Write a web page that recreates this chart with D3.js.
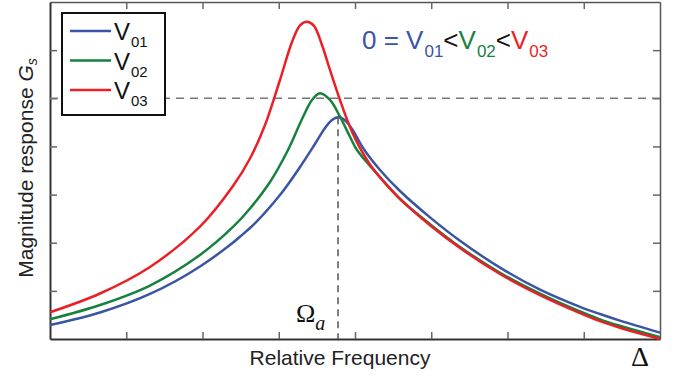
<!DOCTYPE html>
<html>
<head>
<meta charset="utf-8">
<script src="https://cdn.jsdelivr.net/npm/d3@7"></script>
<style>
  body { margin: 0; background: #fff; }
  svg { display: block; }
</style>
</head>
<body>
<div id="chart"></div>
<script>
// Curve samples: [relative frequency, magnitude]
const v01 = [
  [0, 0.291], [0.656, 0.550], [1.311, 0.935], [1.967, 1.506], [2.623, 2.306],
  [3.016, 2.991], [3.279, 3.573], [3.475, 4.051], [3.607, 4.383], [3.698, 4.549],
  [3.777, 4.605], [3.856, 4.560], [3.961, 4.362], [4.105, 3.967], [4.328, 3.510],
  [4.590, 3.074], [4.984, 2.526], [5.377, 2.040], [5.902, 1.483], [6.426, 1.026],
  [6.951, 0.669], [7.213, 0.519], [7.475, 0.382], [8, 0.133]
];
const v02 = [
  [0, 0.409], [0.656, 0.706], [1.311, 1.111], [1.967, 1.745], [2.400, 2.327],
  [2.623, 2.711], [2.885, 3.261], [3.108, 3.885], [3.318, 4.612], [3.436, 4.965],
  [3.541, 5.104], [3.672, 4.965], [3.803, 4.618], [3.934, 4.202], [4.026, 3.926],
  [4.328, 3.365], [4.590, 2.908], [4.984, 2.385], [5.377, 1.911], [5.902, 1.377],
  [6.426, 0.941], [6.951, 0.571], [7.213, 0.409], [7.475, 0.274], [8, 0.035]
];
const v03 = [
  [0, 0.555], [0.656, 0.945], [1.311, 1.496], [1.967, 2.335], [2.400, 3.178],
  [2.623, 3.750], [2.820, 4.445], [3.016, 5.380], [3.174, 6.170], [3.279, 6.515],
  [3.370, 6.591], [3.462, 6.505], [3.567, 6.107], [3.672, 5.588], [3.803, 4.965],
  [3.934, 4.404], [4.066, 3.967], [4.262, 3.484], [4.590, 2.912], [4.984, 2.364],
  [5.377, 1.890], [5.902, 1.350], [6.426, 0.910], [6.951, 0.536], [7.213, 0.370],
  [7.475, 0.233], [8, 0.0]
];

const seriesNames = ['01', '02', '03'];
const seriesColors = ['#3a55a4', '#17813f', '#ec1f26'];
const xTicks = [1, 2, 3, 4, 5, 6, 7];
const yTicks = [1, 2, 3, 4, 5, 6];
const refLevel = 5;                 // horizontal dashed line
const omegaA = [3.777, 4.605];      // vertical dashed line (blue peak)

const width = 686, height = 381;

const svg = d3.select('#chart')
  .append('svg')
  .attr('width', width)
  .attr('height', height);

const x = d3.scaleLinear().domain([0, 8]).range([50, 660]);
const y = d3.scaleLinear().domain([0, 7]).range([339, 2]);

// Axes (ticks pointing inward, no labels)
function styleAxis(g) {
  g.selectAll('.tick line').attr('stroke', '#666').attr('stroke-width', 1.5);
  g.select('.domain').attr('stroke', '#333').attr('stroke-width', 2);
}
svg.append('g').attr('transform', `translate(0,${y(0)})`)
  .call(d3.axisBottom(x).tickValues(xTicks).tickSize(-7).tickSizeOuter(0).tickFormat(''))
  .call(styleAxis);
svg.append('g').attr('transform', `translate(0,${y(7)})`)
  .call(d3.axisTop(x).tickValues(xTicks).tickSize(-7).tickSizeOuter(0).tickFormat(''))
  .call(styleAxis)
  .call(g => g.select('.domain').attr('stroke', '#555').attr('stroke-width', 1.5));
svg.append('g').attr('transform', `translate(${x(0)},0)`)
  .call(d3.axisLeft(y).tickValues(yTicks).tickSize(-7).tickSizeOuter(0).tickFormat(''))
  .call(styleAxis);
svg.append('g').attr('transform', `translate(${x(8)},0)`)
  .call(d3.axisRight(y).tickValues(yTicks).tickSize(-7).tickSizeOuter(0).tickFormat(''))
  .call(styleAxis)
  .call(g => g.select('.domain').attr('stroke', '#555').attr('stroke-width', 1.5));

// Dashed reference lines
svg.append('line')
  .attr('x1', x(0)).attr('x2', x(8))
  .attr('y1', y(refLevel)).attr('y2', y(refLevel))
  .attr('stroke', '#777').attr('stroke-width', 1.5)
  .attr('stroke-dasharray', '8,6');
svg.append('line')
  .attr('x1', x(omegaA[0])).attr('x2', x(omegaA[0]))
  .attr('y1', y(omegaA[1])).attr('y2', y(0))
  .attr('stroke', '#555').attr('stroke-width', 1.5)
  .attr('stroke-dasharray', '7,5');

// Curves
const line = d3.line()
  .x(d => x(d[0]))
  .y(d => y(d[1]))
  .curve(d3.curveCatmullRom.alpha(0.5));

[v01, v02, v03].forEach((data, i) => {
  svg.append('path')
    .datum(data)
    .attr('d', line)
    .attr('fill', 'none')
    .attr('stroke', seriesColors[i])
    .attr('stroke-width', 2.5);
});

// Legend
const legend = svg.append('g');
legend.append('rect')
  .attr('x', 62).attr('y', 13).attr('width', 103).attr('height', 102)
  .attr('fill', '#fff').attr('stroke', '#111').attr('stroke-width', 2);
seriesNames.forEach((name, i) => {
  const ly = 31 + i * 29.5;
  legend.append('line')
    .attr('x1', 70).attr('x2', 111).attr('y1', ly).attr('y2', ly)
    .attr('stroke', seriesColors[i]).attr('stroke-width', 2.5);
  const t = legend.append('text')
    .attr('x', 114).attr('y', ly + 9)
    .attr('font-family', 'Liberation Sans, Arial, sans-serif')
    .attr('font-size', 24)
    .attr('fill', '#111');
  t.append('tspan').text('V');
  t.append('tspan').attr('dy', 7).attr('dx', 1).attr('font-size', 15).text(name);
});

// Annotation 0 = V01 < V02 < V03
const ann = svg.append('text')
  .attr('x', 362).attr('y', 49)
  .attr('font-family', 'Liberation Sans, Arial, sans-serif')
  .attr('font-size', 26);
ann.append('tspan').attr('fill', seriesColors[0]).text('0 = V');
seriesNames.forEach((name, i) => {
  if (i > 0) {
    ann.append('tspan').attr('dy', -8).attr('fill', '#111').text('<');
    ann.append('tspan').attr('fill', seriesColors[i]).text('V');
  }
  ann.append('tspan').attr('dy', 8).attr('dx', 1).attr('font-size', 17).attr('fill', seriesColors[i]).text(name);
});

// Axis labels
svg.append('text')
  .attr('x', 340).attr('y', 365)
  .attr('text-anchor', 'middle')
  .attr('font-family', 'Liberation Sans, Arial, sans-serif')
  .attr('font-size', 21)
  .attr('fill', '#222')
  .text('Relative Frequency');

const yl = svg.append('text')
  .attr('transform', 'translate(33,168) rotate(-90)')
  .attr('text-anchor', 'middle')
  .attr('font-family', 'Liberation Sans, Arial, sans-serif')
  .attr('font-size', 21)
  .attr('fill', '#222');
yl.append('tspan').text('Magnitude response ');
yl.append('tspan').attr('font-style', 'italic').text('G');
yl.append('tspan').attr('font-style', 'italic').attr('font-size', 14).attr('dy', 4).text('s');

// Omega_a and Delta
const om = svg.append('text')
  .attr('x', 296).attr('y', 322)
  .attr('font-family', 'Liberation Serif, DejaVu Serif, serif')
  .attr('font-size', 26)
  .attr('fill', '#111');
om.append('tspan').text('Ω');
om.append('tspan').attr('font-style', 'italic').attr('font-size', 20).attr('dy', 8).text('a');

svg.append('text')
  .attr('x', 640).attr('y', 366)
  .attr('text-anchor', 'middle')
  .attr('font-family', 'Liberation Serif, DejaVu Serif, serif')
  .attr('font-size', 28)
  .attr('fill', '#111')
  .text('Δ');
</script>
</body>
</html>
